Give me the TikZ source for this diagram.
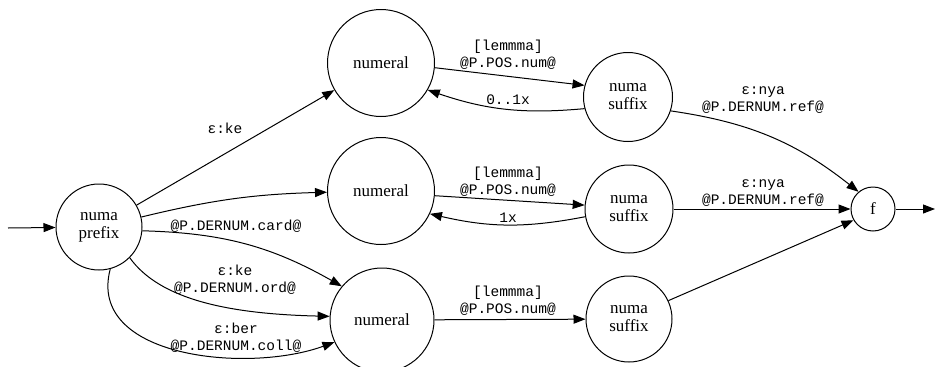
\documentclass[tikz,border=0pt]{standalone}
\usepackage{fontspec}
\setmainfont{Liberation Serif}
\newfontfamily\lblfont{Liberation Mono}
\usetikzlibrary{arrows.meta}
\begin{document}
\begin{tikzpicture}[x=1pt,y=-1pt,
  st/.style={draw,circle,line width=1pt,inner sep=0pt,font=\fontsize{17}{18}\selectfont,align=center},
  tr/.style={line width=1pt,-{Triangle[length=12pt,width=9pt]}},
  lb/.style={font=\lblfont\fontsize{14.5}{17}\selectfont,align=center,inner sep=0pt}]
\useasboundingbox (0,0) rectangle (935,367);
\node[st,minimum size=107pt] (n1) at (381,63) {numeral};
\node[st,minimum size=86pt] (p) at (99,227) {numa\\prefix};
\node[st,minimum size=107pt] (n2) at (381,191) {numeral};
\node[st,minimum size=104pt] (n3) at (382,320) {numeral};
\node[st,minimum size=89pt] (s1) at (628,97) {numa\\suffix};
\node[st,minimum size=88pt] (s2) at (629,209) {numa\\suffix};
\node[st,minimum size=86pt] (s3) at (629,319) {numa\\suffix};
\node[st,minimum size=44pt] (f) at (873,209) {f};
\coordinate (in) at (8,228);
\coordinate (out) at (935,209);
\draw[tr] (in) -- (p);
\draw[tr] (f) -- (out);
\draw[tr] (p) -- (n1) node[lb,at={(225,128)}] {ε:ke};
\draw[tr] (p) to[bend left=6] (n2);
\draw[tr] (p.-5) to[bend left=14] (n3.140) node[lb,at={(236,226)}] {@P.DERNUM.card@};
\draw[tr] (p.-45) .. controls (160,300) and (230,314) .. (n3.176) node[lb,at={(235,280)}] {ε:ke\\@P.DERNUM.ord@};
\draw[tr] (p.-75) to[out=-105,in=200] (n3.-155) node[lb,at={(236,338)}] {ε:ber\\@P.DERNUM.coll@};
\draw[tr] (n1.-5) -- (s1.165) node[lb,at={(508,55)}] {[lemmma]\\@P.POS.num@};
\draw[tr] (s1.-165) to[bend left=12] (n1.-30) node[lb,at={(508,100)}] {0..1x};
\draw[tr] (n2.-5) -- (s2.175) node[lb,at={(508,182)}] {[lemmma]\\@P.POS.num@};
\draw[tr] (s2.-170) to[bend left=12] (n2.-25) node[lb,at={(508,218)}] {1x};
\draw[tr] (n3) -- (s3) node[lb,at={(508,301)}] {[lemmma]\\@P.POS.num@};
\draw[tr] (s1.-18) to[bend left=15] (f.130) node[lb,at={(763,100)}] {ε:nya\\@P.DERNUM.ref@};
\draw[tr] (s2) -- (f) node[lb,at={(763,193)}] {ε:nya\\@P.DERNUM.ref@};
\draw[tr] (s3.25) -- (f.-150);
\end{tikzpicture}
\end{document}
